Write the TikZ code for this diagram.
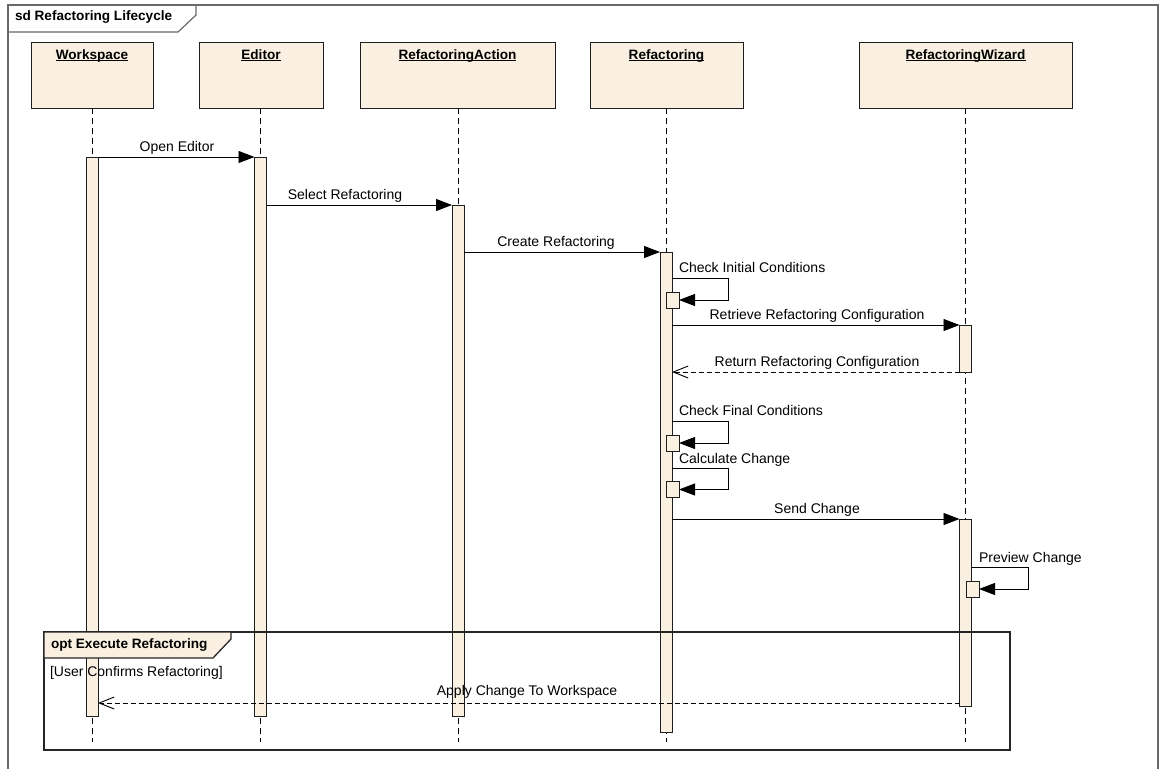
\documentclass[tikz,border=0pt]{standalone}
\usepackage{fontspec}
\setmainfont{Liberation Sans}
\usetikzlibrary{arrows.meta}
\definecolor{lifefill}{RGB}{250,240,226}
\definecolor{framegray}{RGB}{105,105,105}
\definecolor{edge}{RGB}{30,30,30}
% underlined object name, rule placed just under the baseline
\newcommand\ulname[1]{\setbox0\hbox{#1}\rlap{\rule[-2.2pt]{\wd0}{0.9pt}}\box0}
\begin{document}
\begin{tikzpicture}[x=1pt,y=-1pt,
  every node/.style={inner sep=0pt, outer sep=0pt},
  txt/.style={font=\fontsize{14}{16}\selectfont, anchor=base},
  btxt/.style={font=\fontsize{13.6}{16}\selectfont\bfseries, anchor=base},
  headbox/.style={draw=edge, line width=1pt, fill=lifefill, anchor=north,
    minimum height=66pt, minimum width=#1},
  bar/.style={draw=edge, line width=0.9pt, fill=lifefill, anchor=north,
    minimum width=12pt, minimum height=#1},
  execbox/.style={draw=edge, line width=0.9pt, fill=lifefill,
    minimum width=13pt, minimum height=16pt},
  lifeline/.style={draw=black, line width=1pt, dash pattern=on 6pt off 4pt},
  msg/.style={draw=black, line width=0.9pt, -{Triangle[length=16pt,width=12pt]}},
  reply/.style={draw=black, line width=0.9pt, dash pattern=on 5pt off 3pt,
    -{Straight Barb[length=15pt,width=12pt]}},
  frameline/.style={draw=framegray, line width=1.2pt},
  optline/.style={draw=black!85, line width=1.3pt}]
\useasboundingbox (0,0) rectangle (1161,769);

% outer sd frame (open at the bottom)
\draw[frameline] (8,769) -- (8,5) -- (1158,5) -- (1158,769);
\draw[frameline] (8,32) -- (178,32) -- (196,15) -- (196,5);
\node[btxt, anchor=base west] (sdtitle) at (15,20) {sd Refactoring Lifecycle};

% lifeline heads
\node[headbox=122pt] (ws)  at (92,42)    {};
\node[headbox=124pt] (ed)  at (261,42)   {};
\node[headbox=195pt] (act) at (457.5,42) {};
\node[headbox=153pt] (ref) at (666.5,42) {};
\node[headbox=213pt] (wiz) at (965.5,42) {};
\node[btxt] (wst)  at (92,59)    {\ulname{Workspace}};
\node[btxt] (edt)  at (261,59)   {\ulname{Editor}};
\node[btxt] (actt) at (457.5,59) {\ulname{RefactoringAction}};
\node[btxt] (reft) at (666.5,59) {\ulname{Refactoring}};
\node[btxt] (wizt) at (965.5,59) {\ulname{RefactoringWizard}};

% dashed lifelines
\coordinate (wsend)  at (92,742);
\coordinate (edend)  at (260.5,742);
\coordinate (actend) at (458,742);
\coordinate (refend) at (666,742);
\coordinate (wizend) at (965.5,742);
\draw[lifeline] (ws.south -| wsend) -- (wsend);
\draw[lifeline] (ed.south -| edend) -- (edend);
\draw[lifeline] (act.south -| actend) -- (actend);
\draw[lifeline] (ref.south -| refend) -- (refend);
\draw[lifeline] (wiz.south -| wizend) -- (wizend);

% activation bars
\node[bar=559pt] (wsbar)  at (92,157)    {};
\node[bar=559pt] (edbar)  at (260.5,157) {};
\node[bar=511pt] (actbar) at (458,205)   {};
\node[bar=480pt] (refbar) at (666,252)   {};
\node[bar=47pt]  (wiz1)   at (965.5,325) {};
\node[bar=187pt] (wiz2)   at (965.5,519) {};

% nested executions for self calls
\node[execbox] (init)  at (672.5,300) {};
\node[execbox] (final) at (672.5,443) {};
\node[execbox] (calc)  at (672.5,489.5) {};
\node[execbox] (prev)  at (972.5,589) {};

% synchronous calls
\draw[msg] (wsbar.north east) -- (edbar.north west);
\node[txt] (l1) at (177,151) {Open Editor};
\draw[msg] (edbar.east |- actbar.north) -- (actbar.north west);
\node[txt] (l2) at (345,199) {Select Refactoring};
\draw[msg] (actbar.east |- refbar.north) -- (refbar.north west);
\node[txt] (l3) at (556,246) {Create Refactoring};

% self call: initial conditions
\coordinate (i1) at (728,278);
\draw[msg] (refbar.east |- i1) -| (init.east -| i1) -- (init.east);
\node[txt, anchor=base west] (l4) at (679,272) {Check Initial Conditions};

\draw[msg] (refbar.east |- wiz1.north) -- (wiz1.north west);
\node[txt] (l5) at (817,319) {Retrieve Refactoring Configuration};
\draw[reply] (wiz1.south west) -- (refbar.east |- wiz1.south);
\node[txt] (l6) at (817,366) {Return Refactoring Configuration};

% self calls: final conditions and change calculation
\coordinate (f1) at (728,421);
\draw[msg] (refbar.east |- f1) -| (final.east -| f1) -- (final.east);
\node[txt, anchor=base west] (l7) at (679,415) {Check Final Conditions};
\coordinate (c1) at (728,468);
\draw[msg] (refbar.east |- c1) -| (calc.east -| c1) -- (calc.east);
\node[txt, anchor=base west] (l8) at (679,463) {Calculate Change};

\draw[msg] (refbar.east |- wiz2.north) -- (wiz2.north west);
\node[txt] (l9) at (817,513) {Send Change};

% self call on the wizard
\coordinate (p1) at (1028,567);
\draw[msg] (wiz2.east |- p1) -| (prev.east -| p1) -- (prev.east);
\node[txt, anchor=base west] (l10) at (979,562) {Preview Change};

% opt combined fragment
\draw[optline] (44,632) rectangle (1010,750);
\filldraw[optline, fill=lifefill] (44,632) -- (231,632) -- (231,639) -- (213,658) -- (44,658) -- cycle;
\node[btxt, anchor=base west] (opttitle) at (51,648) {opt Execute Refactoring};
\node[txt, anchor=base west] (guard) at (50,676) {[User Confirms Refactoring]};

% reply to the workspace
\coordinate (ap) at (wiz2.west |- 0,703);
\draw[reply] (ap) -- (wsbar.east |- ap);
\node[txt] (l11) at (527,695) {Apply Change To Workspace};
\end{tikzpicture}
\end{document}
